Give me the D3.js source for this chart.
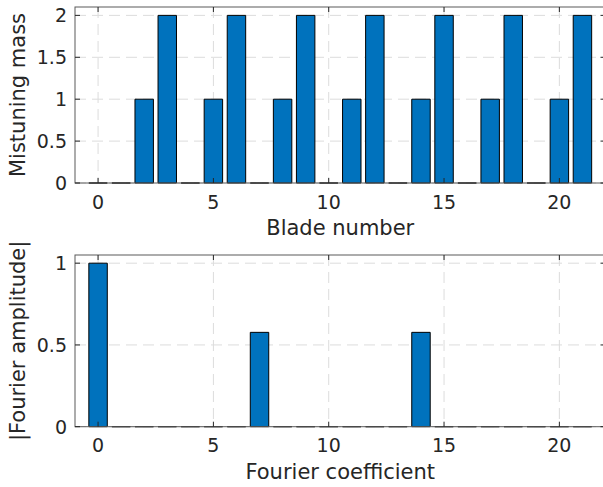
<!DOCTYPE html>
<html>
<head>
<meta charset="utf-8">
<script src="https://cdn.jsdelivr.net/npm/d3@7"></script>
<style>
  html, body { margin: 0; padding: 0; background: #fff; }
  svg { display: block; }
  text { font-family: "DejaVu Sans", sans-serif; fill: #262626; }
</style>
</head>
<body>
<svg id="chart" width="603" height="487"></svg>
<script>
// ---- data ----
const blades = [0,1,2,3,4,5,6,7,8,9,10,11,12,13,14,15,16,17,18,19,20,21];
const mistuningMass = [0,0,1,2,0,1,2,0,1,2,0,1,2,0,1,2,0,1,2,0,1,2];
const coefficients = [0,1,2,3,4,5,6,7,8,9,10,11,12,13,14,15,16,17,18,19,20,21];
const fourierAmplitude = [1,0,0,0,0,0,0,0.577,0,0,0,0,0,0,0.577,0,0,0,0,0,0,0];
const xTicks = [0,5,10,15,20];
const yTicksTop = [0,0.5,1,1.5,2];
const yTicksBottom = [0,0.5,1];
const yTickLabelsTop = ["0","0.5","1","1.5","2"];
const yTickLabelsBottom = ["0","0.5","1"];

const svg = d3.select("#chart");
const BAR_COLOR = "#0072BD";
const GRID_COLOR = "#dcdcdc";
const AXIS_COLOR = "#262626";

function panel(cfg) {
  const x = d3.scaleLinear().domain([-1, 22]).range([cfg.left, cfg.right]);
  const y = d3.scaleLinear().domain([0, cfg.ymax]).range([cfg.bottom, cfg.top]);
  const g = svg.append("g");

  // grid
  g.append("g").selectAll("line.vg").data(cfg.xTicks).join("line")
    .attr("x1", d => x(d)).attr("x2", d => x(d))
    .attr("y1", cfg.top).attr("y2", cfg.bottom)
    .attr("stroke", GRID_COLOR).attr("stroke-width", 1).attr("stroke-dasharray", "11,6");
  g.append("g").selectAll("line.hg").data(cfg.yTicks).join("line")
    .attr("y1", d => y(d)).attr("y2", d => y(d))
    .attr("x1", cfg.left).attr("x2", cfg.right)
    .attr("stroke", GRID_COLOR).attr("stroke-width", 1).attr("stroke-dasharray", "11,6");

  // bars
  const bw = 0.8;
  g.append("g").selectAll("path").data(cfg.xs.map((d, i) => [d, cfg.vals[i]])).join("path")
    .attr("d", d => {
      const x0 = x(d[0] - bw / 2), x1 = x(d[0] + bw / 2);
      const y0 = y(0), y1 = y(d[1]);
      return `M${x0},${y0}H${x1}V${y1}H${x0}Z`;
    })
    .attr("fill", BAR_COLOR).attr("stroke", "#000").attr("stroke-width", 1);

  // box
  g.append("rect")
    .attr("x", cfg.left).attr("y", cfg.top)
    .attr("width", cfg.right - cfg.left).attr("height", cfg.bottom - cfg.top)
    .attr("fill", "none").attr("stroke", "#5a5a5a").attr("stroke-width", 1);

  // ticks (inward, both sides)
  const tl = 5;
  g.append("g").selectAll("line").data(cfg.xTicks).join("line")
    .attr("x1", d => x(d)).attr("x2", d => x(d))
    .attr("y1", cfg.bottom).attr("y2", cfg.bottom - tl)
    .attr("stroke", AXIS_COLOR);
  g.append("g").selectAll("line").data(cfg.xTicks).join("line")
    .attr("x1", d => x(d)).attr("x2", d => x(d))
    .attr("y1", cfg.top).attr("y2", cfg.top + tl)
    .attr("stroke", AXIS_COLOR);
  g.append("g").selectAll("line").data(cfg.yTicks).join("line")
    .attr("y1", d => y(d)).attr("y2", d => y(d))
    .attr("x1", cfg.left).attr("x2", cfg.left + tl)
    .attr("stroke", AXIS_COLOR);
  g.append("g").selectAll("line").data(cfg.yTicks).join("line")
    .attr("y1", d => y(d)).attr("y2", d => y(d))
    .attr("x1", cfg.right).attr("x2", cfg.right - tl)
    .attr("stroke", AXIS_COLOR);

  // tick labels
  g.append("g").selectAll("text").data(cfg.xTicks).join("text")
    .attr("x", d => x(d)).attr("y", cfg.bottom + 25.5)
    .attr("text-anchor", "middle").attr("font-size", 19)
    .text(d => d);
  g.append("g").selectAll("text").data(cfg.yTicks).join("text")
    .attr("x", cfg.left - 8).attr("y", d => y(d)).attr("dy", "0.36em")
    .attr("text-anchor", "end").attr("font-size", 19)
    .text((d, i) => cfg.yLabels[i]);

  // axis labels
  g.append("text")
    .attr("x", (cfg.left + cfg.right) / 2).attr("y", cfg.bottom + 52)
    .attr("text-anchor", "middle").attr("font-size", 21)
    .text(cfg.xLabel);
  g.append("text")
    .attr("transform", `translate(25,${(cfg.top + cfg.bottom) / 2}) rotate(-90)`)
    .attr("text-anchor", "middle").attr("font-size", 21)
    .text(cfg.yLabel);
}

panel({
  left: 75, right: 605.5, top: 7, bottom: 183, ymax: 2.1,
  xs: blades, vals: mistuningMass, xTicks: xTicks,
  yTicks: yTicksTop, yLabels: yTickLabelsTop,
  xLabel: "Blade number", yLabel: "Mistuning mass"
});
panel({
  left: 75, right: 605.5, top: 255, bottom: 426.7, ymax: 1.05,
  xs: coefficients, vals: fourierAmplitude, xTicks: xTicks,
  yTicks: yTicksBottom, yLabels: yTickLabelsBottom,
  xLabel: "Fourier coefficient", yLabel: "|Fourier amplitude|"
});
</script>
</body>
</html>
